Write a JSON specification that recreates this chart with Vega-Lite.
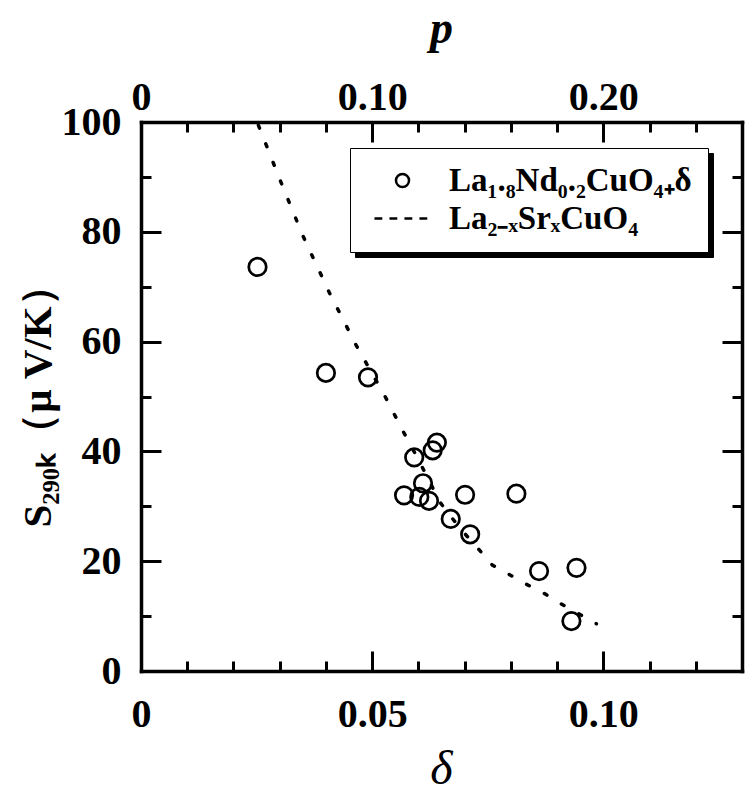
{
  "$schema": "https://vega.github.io/schema/vega-lite/v6.json",
  "width": 601,
  "height": 549,
  "autosize": "none",
  "padding": {"left": 141, "top": 122, "right": 5, "bottom": 131},
  "background": "white",
  "config": {
    "font": "Liberation Serif",
    "view": {"stroke": null},
    "axis": {
      "grid": false,
      "domainColor": "black",
      "domainWidth": 3.5,
      "domainCap": "square",
      "tickColor": "black",
      "tickWidth": 3,
      "labelFont": "Liberation Serif",
      "labelFontWeight": "bold",
      "labelFontSize": 40,
      "labelColor": "black",
      "labelFlush": false,
      "labelOverlap": false,
      "titleColor": "black",
      "titleFont": "Liberation Serif"
    }
  },
  "datasets": {
    "sample": [
      {"delta": 0.0252, "S": 73.6, "series": "La₁.₈Nd₀.₂CuO₄₊δ\u2003", "key": "k1"},
      {"delta": 0.0400, "S": 54.3, "series": "La₁.₈Nd₀.₂CuO₄₊δ\u2003", "key": "k1"},
      {"delta": 0.0491, "S": 53.5, "series": "La₁.₈Nd₀.₂CuO₄₊δ\u2003", "key": "k1"},
      {"delta": 0.0640, "S": 41.6, "series": "La₁.₈Nd₀.₂CuO₄₊δ\u2003", "key": "k1"},
      {"delta": 0.0631, "S": 40.2, "series": "La₁.₈Nd₀.₂CuO₄₊δ\u2003", "key": "k1"},
      {"delta": 0.0591, "S": 38.9, "series": "La₁.₈Nd₀.₂CuO₄₊δ\u2003", "key": "k1"},
      {"delta": 0.0610, "S": 34.2, "series": "La₁.₈Nd₀.₂CuO₄₊δ\u2003", "key": "k1"},
      {"delta": 0.0569, "S": 32.0, "series": "La₁.₈Nd₀.₂CuO₄₊δ\u2003", "key": "k1"},
      {"delta": 0.0602, "S": 31.7, "series": "La₁.₈Nd₀.₂CuO₄₊δ\u2003", "key": "k1"},
      {"delta": 0.0623, "S": 31.0, "series": "La₁.₈Nd₀.₂CuO₄₊δ\u2003", "key": "k1"},
      {"delta": 0.0701, "S": 32.1, "series": "La₁.₈Nd₀.₂CuO₄₊δ\u2003", "key": "k1"},
      {"delta": 0.0812, "S": 32.3, "series": "La₁.₈Nd₀.₂CuO₄₊δ\u2003", "key": "k1"},
      {"delta": 0.0670, "S": 27.7, "series": "La₁.₈Nd₀.₂CuO₄₊δ\u2003", "key": "k1"},
      {"delta": 0.0712, "S": 24.9, "series": "La₁.₈Nd₀.₂CuO₄₊δ\u2003", "key": "k1"},
      {"delta": 0.0861, "S": 18.2, "series": "La₁.₈Nd₀.₂CuO₄₊δ\u2003", "key": "k1"},
      {"delta": 0.0942, "S": 18.8, "series": "La₁.₈Nd₀.₂CuO₄₊δ\u2003", "key": "k1"},
      {"delta": 0.0931, "S": 9.1, "series": "La₁.₈Nd₀.₂CuO₄₊δ\u2003", "key": "k1"}
    ],
    "lsco": [
      {"delta": 0.0254, "S": 99.4},
      {"delta": 0.0301, "S": 89.4},
      {"delta": 0.0350, "S": 79.3},
      {"delta": 0.0407, "S": 69.0},
      {"delta": 0.0465, "S": 59.4},
      {"delta": 0.0528, "S": 50.0},
      {"delta": 0.0568, "S": 43.5},
      {"delta": 0.0600, "S": 38.5},
      {"delta": 0.0647, "S": 30.7},
      {"delta": 0.0690, "S": 26.0},
      {"delta": 0.0727, "S": 22.5},
      {"delta": 0.0760, "S": 19.3},
      {"delta": 0.0792, "S": 17.8},
      {"delta": 0.0829, "S": 16.0},
      {"delta": 0.0869, "S": 14.3},
      {"delta": 0.0905, "S": 12.4},
      {"delta": 0.0943, "S": 10.6},
      {"delta": 0.0985, "S": 8.6}
    ]
  },
  "layer": [
    {
      "data": {"name": "sample"},
      "mark": {"type": "point", "filled": false, "size": 306, "strokeWidth": 2.7, "opacity": 1},
      "encoding": {
        "x": {
          "field": "delta", "type": "quantitative",
          "scale": {"domain": [0, 0.13], "nice": false, "zero": false},
          "axis": {
            "orient": "bottom",
            "values": [0, 0.05, 0.1],
            "tickSize": -20,
            "labelPadding": 43,
            "labelBaseline": "top",
            "labelExpr": "datum.value == 0 ? '0' : datum.value < 0.07 ? '0.05' : '0.10'",
            "title": "δ",
            "titleFontSize": 48,
            "titleFontStyle": "italic",
            "titleFontWeight": "normal",
            "titleBaseline": "alphabetic",
            "titleX": 300,
            "titleY": 112
          }
        },
        "y": {
          "field": "S", "type": "quantitative",
          "scale": {"domain": [0, 100], "nice": false, "zero": false},
          "axis": {
            "orient": "left",
            "values": [0, 20, 40, 60, 80, 100],
            "tickSize": -20,
            "labelPadding": 40,
            "title": "S₂₉₀ₖ（μ V/K）",
            "titleFontSize": 41,
            "titleFontWeight": "bold",
            "titleAngle": -90,
            "titleBaseline": "middle",
            "titleAlign": "center",
            "titleX": -103,
            "titleY": 274
          }
        },
        "color": {
          "field": "key", "type": "nominal",
          "scale": {"domain": ["k1", "k2"], "range": ["black", "black"]},
          "legend": {
            "title": null,
            "orient": "none",
            "legendX": 214,
            "legendY": 31,
            "fillColor": "black",
            "strokeColor": "black",
            "padding": 16,
            "rowPadding": 4,
            "symbolSize": 170,
            "symbolType": "M-4.3,0H-3.1M-2,0H-0.8M0.3,0H1.5M2.6,0H3.8",
            "symbolStrokeWidth": 2.5,
            "symbolStrokeColor": "black",
            "symbolOffset": 20,
            "labelOffset": 30,
            "labelFont": "Liberation Serif",
            "labelFontSize": 33,
            "labelFontWeight": "bold",
            "labelColor": "black",
            "labelLimit": 0,
            "labelExpr": "datum.label == 'k1' ? 'La₁.₈Nd₀.₂CuO₄₊δ\u2003' : 'La₂₋ₓSrₓCuO₄'"
          }
        },
        "shape": {
          "field": "series", "type": "nominal",
          "scale": {
            "domain": ["La₁.₈Nd₀.₂CuO₄₊δ\u2003", "La₂₋ₓSrₓCuO₄"],
            "range": ["circle", "M-4.3,0H-3.1M-2,0H-0.8M0.3,0H1.5M2.6,0H3.8"]
          },
          "legend": {
            "title": null,
            "orient": "none",
            "legendX": 209,
            "legendY": 26,
            "fillColor": "white",
            "strokeColor": "black",
            "padding": 16,
            "rowPadding": 4,
            "symbolSize": 170,
            "symbolStrokeWidth": 2.5,
            "symbolStrokeColor": "black",
            "symbolFillColor": "transparent",
            "symbolOpacity": 1,
            "symbolOffset": 20,
            "labelOffset": 30,
            "labelFont": "Liberation Serif",
            "labelFontSize": 33,
            "labelFontWeight": "bold",
            "labelColor": "black",
            "labelLimit": 0
          }
        }
      }
    },
    {
      "data": {"name": "lsco"},
      "mark": {"type": "line", "color": "black", "strokeWidth": 3.5, "strokeDash": [3, 17], "strokeCap": "round"},
      "encoding": {
        "x": {
          "field": "delta", "type": "quantitative",
          "scale": {"domain": [0, 0.13], "nice": false, "zero": false},
          "axis": {
            "orient": "top",
            "values": [0, 0.05, 0.1],
            "tickSize": -20,
            "labelPadding": 33,
            "labelBaseline": "alphabetic",
            "labelExpr": "datum.value == 0 ? '0' : datum.value < 0.07 ? '0.10' : '0.20'",
            "title": "p",
            "titleFontSize": 46,
            "titleFontStyle": "italic",
            "titleFontWeight": "bold",
            "titleBaseline": "alphabetic",
            "titleX": 300,
            "titleY": -80
          }
        },
        "y": {
          "field": "S", "type": "quantitative",
          "scale": {"domain": [0, 100], "nice": false, "zero": false},
          "axis": {
            "orient": "right",
            "values": [0, 20, 40, 60, 80, 100],
            "tickSize": -20,
            "labels": false,
            "title": null
          }
        }
      }
    },
    {
      "data": {"name": "lsco"},
      "mark": {"type": "line", "strokeOpacity": 0},
      "encoding": {
        "x": {
          "field": "delta", "type": "quantitative",
          "scale": {"domain": [0, 0.13], "nice": false, "zero": false},
          "axis": {
            "orient": "bottom",
            "values": [0.01, 0.02, 0.03, 0.04, 0.06, 0.07, 0.08, 0.09, 0.11, 0.12],
            "tickSize": -10,
            "labels": false,
            "domain": false,
            "title": null
          }
        },
        "y": {
          "field": "S", "type": "quantitative",
          "scale": {"domain": [0, 100], "nice": false, "zero": false},
          "axis": {
            "orient": "left",
            "values": [10, 30, 50, 70, 90],
            "tickSize": -10,
            "labels": false,
            "domain": false,
            "title": null
          }
        }
      }
    },
    {
      "data": {"name": "lsco"},
      "mark": {"type": "line", "strokeOpacity": 0},
      "encoding": {
        "x": {
          "field": "delta", "type": "quantitative",
          "scale": {"domain": [0, 0.13], "nice": false, "zero": false},
          "axis": {
            "orient": "top",
            "values": [0.01, 0.02, 0.03, 0.04, 0.06, 0.07, 0.08, 0.09, 0.11, 0.12],
            "tickSize": -10,
            "labels": false,
            "domain": false,
            "title": null
          }
        },
        "y": {
          "field": "S", "type": "quantitative",
          "scale": {"domain": [0, 100], "nice": false, "zero": false},
          "axis": {
            "orient": "right",
            "values": [10, 30, 50, 70, 90],
            "tickSize": -10,
            "labels": false,
            "domain": false,
            "title": null
          }
        }
      }
    }
  ],
  "resolve": {"axis": {"x": "independent", "y": "independent"}}
}
